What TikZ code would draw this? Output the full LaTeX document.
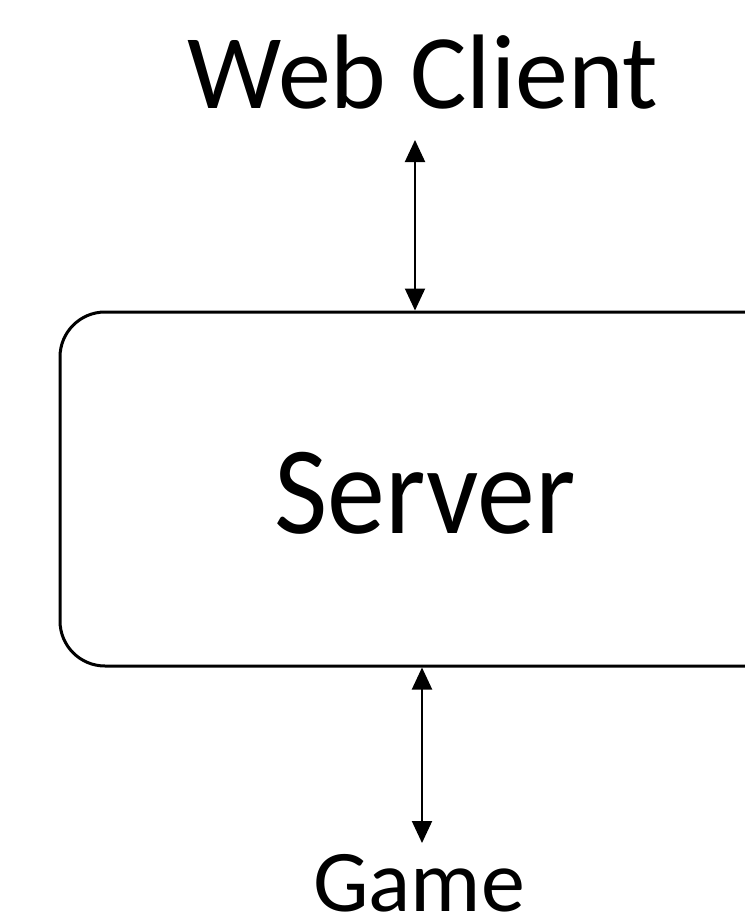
\documentclass[tikz,border=0pt]{standalone}
\usepackage{fontspec}
\setmainfont{Carlito}
\usetikzlibrary{arrows.meta}
\begin{document}
\begin{tikzpicture}[x=1pt,y=-1pt,
  lbl/.style={inner sep=0pt, anchor=base},
  dbl/.style={line width=2pt, {Triangle[length=22pt,width=20pt]}-{Triangle[length=22pt,width=20pt]}},
  boxstyle/.style={draw, line width=3pt, rounded corners=45pt, minimum width=730pt, minimum height=354pt, inner sep=0pt}]
\useasboundingbox (0,0) rectangle (744,923);
\node[lbl, font=\fontsize{106}{120}\selectfont] (web) at (423,109) {Web Client};
\node[boxstyle] (server) at (425,489) {};
\node[lbl, font=\fontsize{116}{130}\selectfont] (srv) at (425,533) {\scalebox{1}[1.08]{Server}};
\node[lbl, font=\fontsize{88}{100}\selectfont] (game) at (419,911) {Game};
\coordinate (t1) at (415,140);
\coordinate (b1) at (422,843);
\draw[dbl] (t1) -- (t1 |- server.north);
\draw[dbl] (b1 |- server.south) -- (b1);
\end{tikzpicture}
\end{document}
